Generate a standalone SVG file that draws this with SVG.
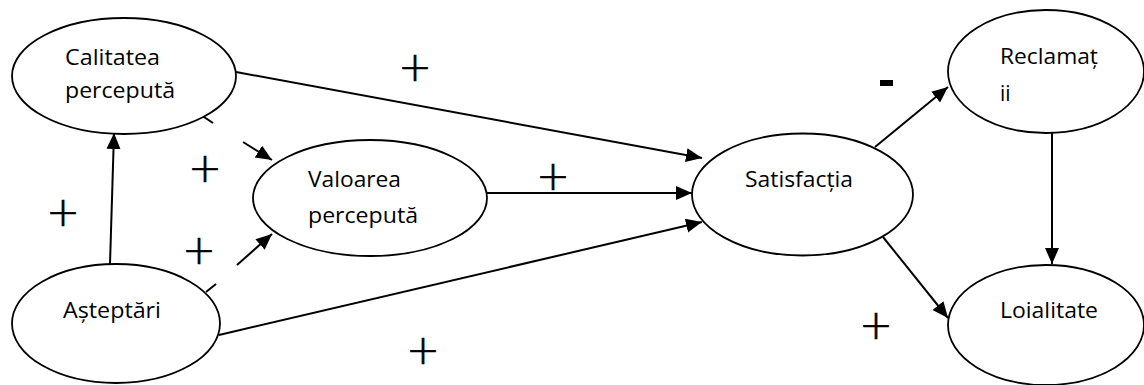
<svg xmlns="http://www.w3.org/2000/svg" width="1144" height="385" viewBox="0 0 1144 385">
<style>
.node ellipse{fill:#fff;stroke:#000;stroke-width:1.8}
.lbl{font-family:"Open Sans","Noto Sans",sans-serif;font-size:21px;fill:#000}
.conn line{stroke:#000;stroke-width:2;fill:none}
.sign{font-family:"DejaVu Sans","Liberation Sans",sans-serif;font-weight:200;font-size:40px;fill:#000;stroke:#000;stroke-width:0.7;text-anchor:middle}
</style>
<defs>
<marker id="ah" markerUnits="userSpaceOnUse" markerWidth="17" markerHeight="15" refX="16" refY="7" orient="auto">
<path d="M0,0 L16,7 L0,14 z" fill="#000"/>
</marker>
</defs>
<rect width="1144" height="385" fill="#fff"/>
<g class="conn">
<line x1="110" y1="264" x2="114" y2="133" marker-end="url(#ah)"/>
<line x1="201" y1="115" x2="213" y2="123"/>
<line x1="243" y1="142" x2="272" y2="160" marker-end="url(#ah)"/>
<line x1="206" y1="292" x2="216" y2="284"/>
<line x1="237" y1="265" x2="272" y2="234" marker-end="url(#ah)"/>
<line x1="236" y1="72" x2="702" y2="158" marker-end="url(#ah)"/>
<line x1="487" y1="193" x2="692" y2="193" marker-end="url(#ah)"/>
<line x1="219" y1="335" x2="702" y2="222" marker-end="url(#ah)"/>
<line x1="875" y1="147" x2="948" y2="87" marker-end="url(#ah)"/>
<line x1="883" y1="237" x2="948" y2="318" marker-end="url(#ah)"/>
<line x1="1052" y1="133" x2="1052" y2="264" marker-end="url(#ah)"/>
</g>
<g id="calitatea" class="node">
<ellipse cx="124" cy="76" rx="112" ry="58"/>
<text class="lbl" x="65" y="65" textLength="95" lengthAdjust="spacingAndGlyphs">Calitatea</text>
<text class="lbl" x="65" y="98" textLength="110" lengthAdjust="spacingAndGlyphs">percepută</text>
</g>
<g id="valoarea" class="node">
<ellipse cx="370" cy="198" rx="117" ry="58"/>
<text class="lbl" x="308" y="187" textLength="93" lengthAdjust="spacingAndGlyphs">Valoarea</text>
<text class="lbl" x="308" y="223" textLength="110" lengthAdjust="spacingAndGlyphs">percepută</text>
</g>
<g id="asteptari" class="node">
<ellipse cx="116" cy="323.5" rx="104" ry="59.5"/>
<text class="lbl" x="63" y="318" textLength="98" lengthAdjust="spacingAndGlyphs">Așteptări</text>
</g>
<g id="satisfactia" class="node">
<ellipse cx="802.5" cy="194.5" rx="110.5" ry="61"/>
<text class="lbl" x="745" y="187" textLength="108" lengthAdjust="spacingAndGlyphs">Satisfacția</text>
</g>
<g id="reclamatii" class="node">
<ellipse cx="1046" cy="71.5" rx="98" ry="61.5"/>
<text class="lbl" x="1000" y="64" textLength="98" lengthAdjust="spacingAndGlyphs">Reclamaț</text>
<text class="lbl" x="1000" y="101">ii</text>
</g>
<g id="loialitate" class="node">
<ellipse cx="1046" cy="325" rx="98" ry="60"/>
<text class="lbl" x="1000" y="318" textLength="98" lengthAdjust="spacingAndGlyphs">Loialitate</text>
</g>
<g id="signs">
<text class="sign" x="415" y="81">+</text>
<text class="sign" x="205" y="182">+</text>
<text class="sign" x="63" y="226">+</text>
<text class="sign" x="199" y="264">+</text>
<text class="sign" x="553" y="190">+</text>
<text class="sign" x="423" y="364">+</text>
<text class="sign" x="876" y="339">+</text>
<rect x="880" y="80" width="13" height="6" fill="#000"/>
</g>
</svg>
